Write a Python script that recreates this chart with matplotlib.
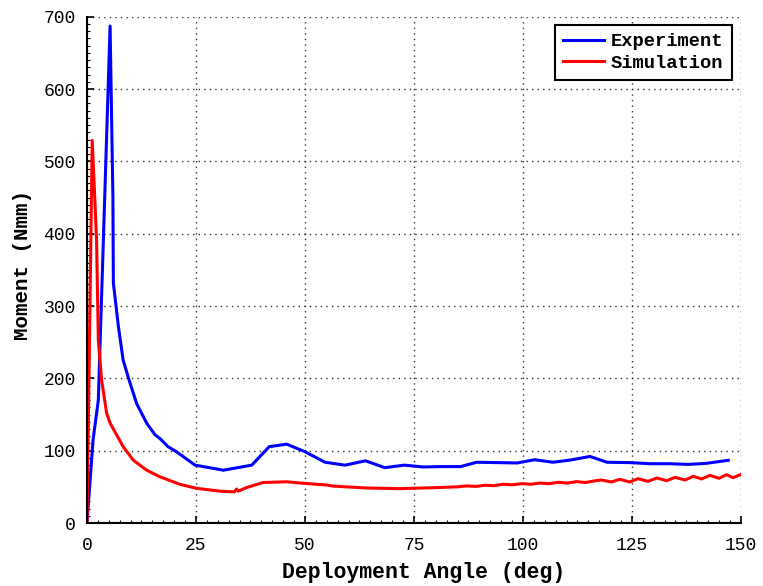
import numpy as np
import matplotlib
matplotlib.use("Agg")
import matplotlib.pyplot as plt
from matplotlib.ticker import MultipleLocator

# measured moment during deployment
exp_angle = [0.0, 1.4, 2.6, 3.7, 5.3, 5.95, 6.05, 7.2, 8.3, 9.9, 11.4, 13.7, 15.6,
             16.7, 18.6, 20.5, 24.8, 31.3, 37.8, 41.8, 45.8, 50.0, 54.6, 59.2,
             63.9, 68.3, 72.8, 77.1, 81.5, 85.7, 89.4, 94.0, 98.7, 102.7, 106.9,
             110.8, 115.4, 119.3, 124.5, 129.1, 133.7, 137.9, 142.1, 147.1]
exp_moment = [0, 115, 170, 380, 687, 450, 332, 272, 225, 193, 165, 138, 122,
              117, 105.5, 98.6, 80, 73, 80, 105.5, 109, 98.6, 84, 80,
              86, 76.5, 80, 77.5, 78, 78, 84, 83.5, 83, 87.5, 84,
              87, 92, 84, 83.5, 82, 82, 81, 82.5, 86.7]

# simulated moment
sim_angle = [0.0, 1.2, 1.8, 2.2, 2.6, 3.35, 4.5, 5.3, 6.6, 8.3, 10.6, 13.7, 16.7,
             21.3, 25.1, 30.5, 33.8, 34.3, 34.7, 36.6, 40.4, 45.8, 48.9, 55.0,
             56.5, 64.1, 71.8, 79.4, 85.0, 87.1, 89.2, 91.3, 93.4, 95.5, 97.6,
             99.7, 101.8, 103.9, 106.0, 108.1, 110.2, 112.3, 114.4, 116.5,
             118.0, 120.3, 122.2, 124.5, 126.4, 128.7, 130.7, 133.0, 134.9,
             137.2, 139.1, 141.0, 142.9, 145.0, 146.7, 148.2, 149.9]
sim_moment = [0, 529, 447, 391, 253, 198, 152, 138, 124, 105.5, 87, 73, 64,
              53.5, 48, 44, 43, 47, 44, 49, 56, 57, 55.3, 52.5,
              51, 48.4, 47.5, 48.8, 50.0, 51.3, 50.6, 52.2, 51.6, 53.6, 52.8,
              54.4, 53.6, 55.2, 54.4, 56.3, 55.2, 57.2, 56.0, 58.3,
              59.5, 56.7, 60.4, 56.7, 61.3, 57.6, 62.2, 58.5, 63.1,
              59.5, 64.5, 60.9, 65.9, 61.8, 66.8, 62.7, 66.8]

x_ticks = [0, 25, 50, 75, 100, 125, 150]
y_ticks = [0, 100, 200, 300, 400, 500, 600, 700]

mono = "Liberation Mono"

fig = plt.figure(figsize=(7.63, 5.86), dpi=100)
ax = fig.add_axes([0.114, 0.1075, 0.857, 0.864])

ax.plot(exp_angle, exp_moment, color="#0000ff", lw=2.2, label="Experiment")
ax.plot(sim_angle, sim_moment, color="#ff0000", lw=2.2, label="Simulation")

ax.set_xlim(0, 150)
ax.set_ylim(0, 700)
ax.set_xticks(x_ticks)
ax.set_yticks(y_ticks)
ax.xaxis.set_minor_locator(MultipleLocator(2.5))
ax.yaxis.set_minor_locator(MultipleLocator(10))
ax.tick_params(which="major", direction="in", length=5, width=1.2,
               labelsize=13)
ax.tick_params(axis="x", which="major", pad=10)
ax.tick_params(axis="y", which="major", pad=8)
ax.tick_params(which="minor", direction="in", length=2.5, width=0.8)
for lab in ax.get_xticklabels() + ax.get_yticklabels():
    lab.set_fontfamily(mono)

ax.grid(True, which="major", linestyle=(0, (1, 3)), color="#333333", lw=1.0)

ax.spines["top"].set_visible(False)
ax.spines["right"].set_visible(False)
ax.spines["left"].set_linewidth(1.5)
ax.spines["bottom"].set_linewidth(1.5)

ax.set_xlabel("Deployment Angle (deg)", fontfamily=mono, fontweight="bold",
              fontsize=15.5)
ax.xaxis.set_label_coords(0.515, -0.078)
ax.set_ylabel("Moment (Nmm)", fontfamily=mono, fontweight="bold",
              fontsize=15)
ax.yaxis.set_label_coords(-0.084, 0.51)

leg = ax.legend(loc="upper right", bbox_to_anchor=(0.986, 0.984),
                borderaxespad=0,
                prop={"family": mono, "weight": "bold", "size": 13.5},
                fancybox=False, framealpha=1, edgecolor="black",
                handlelength=2.2, borderpad=0.45, labelspacing=0.22,
                handletextpad=0.35)
leg.get_frame().set_linewidth(1.5)

fig.savefig("out.png", dpi=100)
